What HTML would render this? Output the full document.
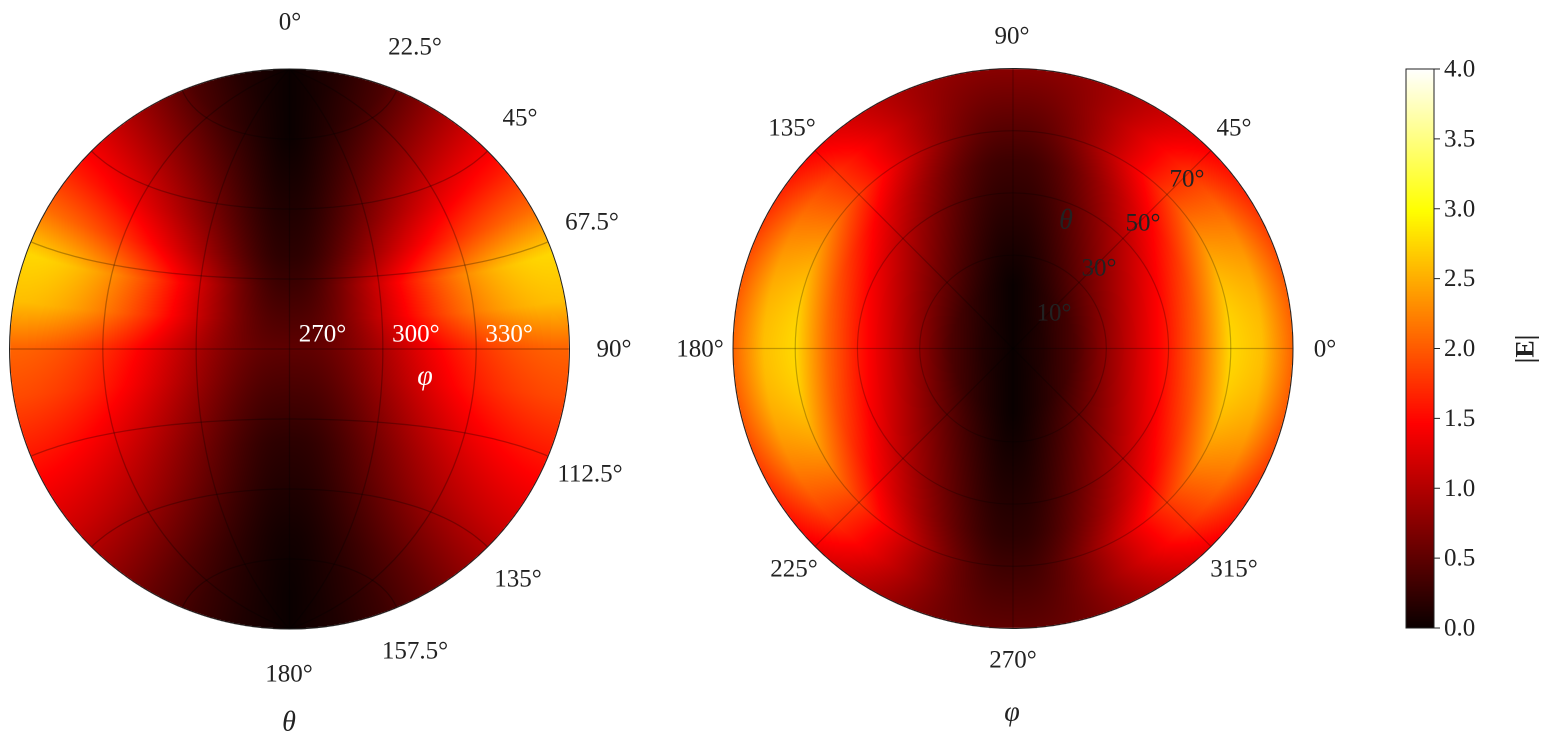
<!DOCTYPE html>
<html><head><meta charset="utf-8"><style>
html,body{margin:0;padding:0;background:#fff}
#wrap{position:relative;width:1546px;height:749px;overflow:hidden;font-family:"Liberation Serif","DejaVu Serif",serif}
canvas,svg{position:absolute;left:0;top:0}
</style></head><body>
<div id="wrap">
<canvas id="cv" width="1546" height="749"></canvas>
<svg id="sv" width="1546" height="749"></svg>
</div>
<script>
// field magnitude along theta (deg 0..180 step 10)
const thetaDeg = [0,10,20,30,40,50,60,70,80,90,100,110,120,130,140,150,160,170,180];
const gVals = [0,0.15,0.4,0.8,1.2,1.6,2.1,2.75,2.6,2.05,1.9,1.65,1.4,1.15,0.85,0.55,0.3,0.12,0];
const hVals = [0,0,0,0.05,0.1,0.15,0.2,0.3,0.4,0.5,0.4,0.3,0.2,0.15,0.1,0.05,0.02,0,0];
const cbTicks = [0,0.5,1,1.5,2,2.5,3,3.5,4];
const leftOuterTicks = [0,22.5,45,67.5,90,112.5,135,157.5,180];
const leftOuterPos = [[290,22],[415,47],[520,118],[592,222],[614,349],[590,474],[518,579],[415,651],[289,674]];
const leftPhiTicks = [270,300,330];
const rightPhiTicks = [0,45,90,135,180,225,270,315];
const rightPhiPos = [[1325,349],[1234,128],[1012,36],[792,128],[700,349],[794,569],[1013,660],[1234,569]];
const rightThetaTicks = [10,30,50,70];
const VMAX = 4;
const R = 280, L = {cx:289.5, cy:349}, RT = {cx:1013, cy:348.5};
const CB = {x:1406, y:69, w:28, h:559};
const NS = "http://www.w3.org/2000/svg";
const sv = document.getElementById('sv');

function interp(arr, th){ const t=Math.max(0,Math.min(180,th))/10; const i=Math.min(17,Math.floor(t)); const f=t-i; return arr[i]*(1-f)+arr[i+1]*f; }
function field(th, ph){ const c=Math.pow(Math.abs(Math.cos(ph)),1.25); const s=Math.sin(ph); const h=interp(hVals,th)*(s>0?1.5:1)*Math.abs(s); const g=interp(gVals,th)*c; return Math.sqrt(g*g+h*h); }
function hot(v){ const t=Math.max(0,Math.min(1,v/VMAX)); const cl=x=>Math.max(0,Math.min(1,x));
  return [cl(0.0416+t/0.365*0.9584)*255, cl((t-0.365)/0.381)*255, cl((t-0.746)/0.254)*255]; }

const cv=document.getElementById('cv'); const ctx=cv.getContext('2d');
const img=ctx.createImageData(1546,749); const d=img.data;
function put(px,py,v){ const c=hot(v); const k=(py*1546+px)*4; d[k]=c[0];d[k+1]=c[1];d[k+2]=c[2];d[k+3]=255; }
for(let py=0;py<749;py++){ for(let px=0;px<1546;px++){
  let u=(px+0.5-L.cx)/R, v=-(py+0.5-L.cy)/R, rr=Math.hypot(u,v);
  if(rr<=1){ const rho=rr*Math.PI/2; const du=rr>0?u/rr:0, dv=rr>0?v/rr:0;
    const x=Math.sin(rho)*du, y=-Math.cos(rho), z=Math.sin(rho)*dv;
    put(px,py,field(Math.acos(Math.max(-1,Math.min(1,z)))*180/Math.PI, Math.atan2(y,x))); continue; }
  u=(px+0.5-RT.cx)/R; v=-(py+0.5-RT.cy)/R; rr=Math.hypot(u,v);
  if(rr<=1){ put(px,py,field(rr*90, Math.atan2(v,u))); continue; }
  if(px>=CB.x&&px<CB.x+CB.w&&py>=CB.y&&py<CB.y+CB.h){ put(px,py,VMAX*(CB.y+CB.h-py-0.5)/CB.h); }
}}
ctx.putImageData(img,0,0);

function el(tag, attrs, name, inter){ const e=document.createElementNS(NS,tag); for(const k in attrs) e.setAttribute(k,attrs[k]);
  
  
  sv.appendChild(e); return e; }
function txt(x,y,s,name,extra){ const t=el('text',Object.assign({x:x,y:y,'font-size':25,'text-anchor':'middle','dominant-baseline':'central',fill:'#222'},extra||{}),name,false); t.textContent=s; return t; }

function projL(th,ph){ const T=th*Math.PI/180,P=ph*Math.PI/180; const x=Math.sin(T)*Math.cos(P), y=Math.sin(T)*Math.sin(P), z=Math.cos(T);
  const rho=Math.acos(Math.max(-1,Math.min(1,-y))); if(rho>Math.PI/2+1e-6) return null; const n=Math.hypot(x,z)||1; const r=rho/(Math.PI/2)*R;
  return [L.cx+r*x/n, L.cy-r*z/n]; }
function polyL(pts,name){ let dstr=''; let pen=false; pts.forEach(p=>{ if(!p){pen=false;return;} dstr+=(pen?'L':'M')+p[0].toFixed(1)+','+p[1].toFixed(1); pen=true; });
  el('path',{d:dstr,fill:'none',stroke:'rgba(0,0,0,0.28)','stroke-width':1.3},name,false); }
[22.5,45,67.5,90,112.5,135,157.5].forEach(th=>{ const pts=[]; for(let ph=180;ph<=360;ph+=2) pts.push(projL(th,ph)); polyL(pts,'parallel-'+th); });
[210,240,270,300,330].forEach(ph=>{ const pts=[]; for(let th=0;th<=180;th+=2) pts.push(projL(th,ph)); polyL(pts,'meridian-'+ph); });
el('circle',{cx:L.cx,cy:L.cy,r:R,fill:'none',stroke:'#222','stroke-width':1},'left-disk-rim',false);
[30,50,70].forEach(t=>el('circle',{cx:RT.cx,cy:RT.cy,r:t/90*R,fill:'none',stroke:'rgba(0,0,0,0.25)','stroke-width':1.2},'theta-circle-'+t,false));
[0,45,90,135].forEach(a=>{ const A=a*Math.PI/180; el('line',{x1:RT.cx-R*Math.cos(A),y1:RT.cy+R*Math.sin(A),x2:RT.cx+R*Math.cos(A),y2:RT.cy-R*Math.sin(A),stroke:'rgba(0,0,0,0.25)','stroke-width':1.2},'phi-gridline-'+a,false); });
el('circle',{cx:RT.cx,cy:RT.cy,r:R,fill:'none',stroke:'#222','stroke-width':1},'right-disk-rim',false);

leftOuterTicks.forEach((t,i)=>txt(leftOuterPos[i][0],leftOuterPos[i][1],t+'°','left-theta-tick-'+t));
leftPhiTicks.forEach(p=>{ const q=projL(90,p); txt(q[0]+33,q[1]-15,p+'°','left-phi-tick-'+p,{fill:'#fff'}); });
txt(425,376,'φ','left-phi-label',{fill:'#fff','font-style':'italic','font-size':28});
txt(289,722,'θ','left-theta-title',{'font-style':'italic','font-size':28});
rightPhiTicks.forEach((p,i)=>txt(rightPhiPos[i][0],rightPhiPos[i][1],p+'°','right-phi-tick-'+p));
const rtPos={10:[1054,313],30:[1099,268],50:[1143,223],70:[1187,179]};
rightThetaTicks.forEach(t=>txt(rtPos[t][0],rtPos[t][1],t+'°','right-theta-tick-'+t));
txt(1066,220,'θ','right-theta-axis-label',{'font-style':'italic','font-size':28});
txt(1012,712,'φ','right-phi-title',{'font-style':'italic','font-size':28});
el('rect',{x:CB.x,y:CB.y,width:CB.w,height:CB.h,fill:'none',stroke:'#222','stroke-width':1},'colorbar',false);
cbTicks.forEach(v=>{ const y=CB.y+CB.h-v/VMAX*CB.h; el('line',{x1:CB.x+CB.w,y1:y,x2:CB.x+CB.w+6,y2:y,stroke:'#222','stroke-width':1},'colorbar-tick-'+v,false);
  txt(CB.x+CB.w+10,y,v.toFixed(1),'colorbar-tick-label-'+v,{'text-anchor':'start'}); });
txt(1525,349,'|E|','colorbar-title',{'font-weight':'bold','font-size':26,transform:'rotate(-90 1525 349)'});
</script>
</body></html>
